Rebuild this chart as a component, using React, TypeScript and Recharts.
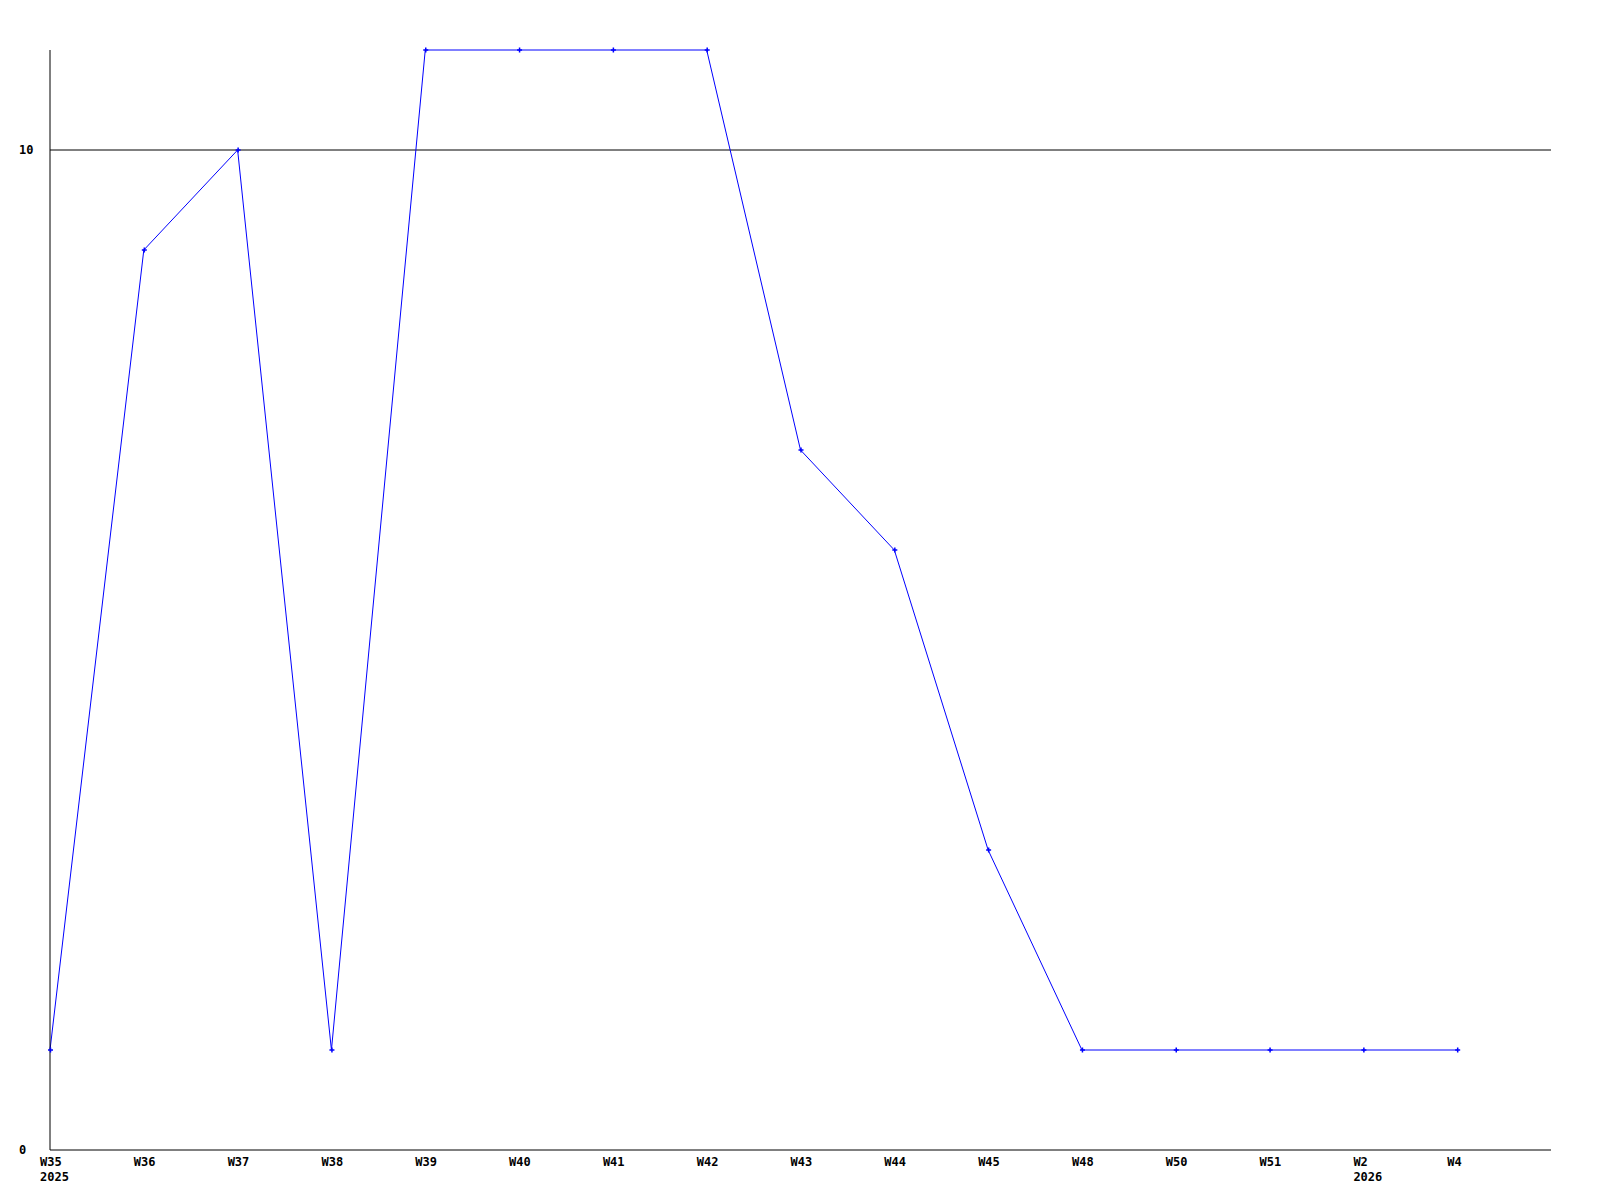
import { LineChart, Line, XAxis, YAxis, CartesianGrid } from "recharts"

const weeks = ["W35", "W36", "W37", "W38", "W39", "W40", "W41", "W42", "W43", "W44", "W45", "W48", "W50", "W51", "W2", "W4"]
const years = ["2025", "", "", "", "", "", "", "", "", "", "", "", "", "", "2026", ""]
const counts = [1, 9, 10, 1, 11, 11, 11, 11, 7, 6, 3, 1, 1, 1, 1, 1]

const data = counts.map((v, i) => ({ idx: i, value: v }))
const xTicks = weeks.map((_, i) => i)

const font = "'DejaVu Sans Mono', monospace"

// labels start a little left of the tick, year sits under the week
const WeekTick = (props: any) => {
    const { x, payload } = props
    const i = payload.value
    return (
        <g>
            <text x={x - 10} y={1166} textAnchor="start" fontFamily={font} fontWeight="bold" fontSize={12} fill="#000">
                {weeks[i]}
            </text>
            {years[i] && (
                <text x={x - 10} y={1181} textAnchor="start" fontFamily={font} fontWeight="bold" fontSize={12} fill="#000">
                    {years[i]}
                </text>
            )}
        </g>
    )
}

const CountTick = (props: any) => {
    const { y, payload } = props
    return (
        <text x={19} y={y + 4} textAnchor="start" fontFamily={font} fontWeight="bold" fontSize={12} fill="#000">
            {payload.value}
        </text>
    )
}

const Mark = (props: any) => {
    const { cx, cy } = props
    if (cx == null || cy == null) return null
    return (
        <path
            d={`M${cx - 2} ${cy}h5M${cx + 0.5} ${cy - 2.5}v5`}
            stroke="#0000ff"
            strokeWidth={1.5}
            fill="none"
        />
    )
}

const App = () => {
    return (
        <div style={{ position: "absolute", left: 0, top: 0, width: 1600, height: 1200, background: "#fff" }}>
            <LineChart width={1600} height={1200} data={data} margin={{ top: 50, right: 49, bottom: 0, left: 0 }}>
                <CartesianGrid vertical={false} horizontalValues={[10]} stroke="#000" strokeDasharray="" />
                <XAxis
                    dataKey="idx"
                    type="number"
                    domain={[0, 16]}
                    ticks={xTicks}
                    interval={0}
                    height={50}
                    tickLine={false}
                    axisLine={{ stroke: "#000" }}
                    tick={<WeekTick />}
                />
                <YAxis
                    domain={[0, 11]}
                    ticks={[0, 10]}
                    width={50}
                    tickLine={false}
                    axisLine={{ stroke: "#000" }}
                    tick={<CountTick />}
                />
                <Line
                    type="linear"
                    dataKey="value"
                    stroke="#0000ff"
                    strokeWidth={1}
                    dot={<Mark />}
                    activeDot={false}
                    isAnimationActive={false}
                />
            </LineChart>
        </div>
    )
}

export default App
